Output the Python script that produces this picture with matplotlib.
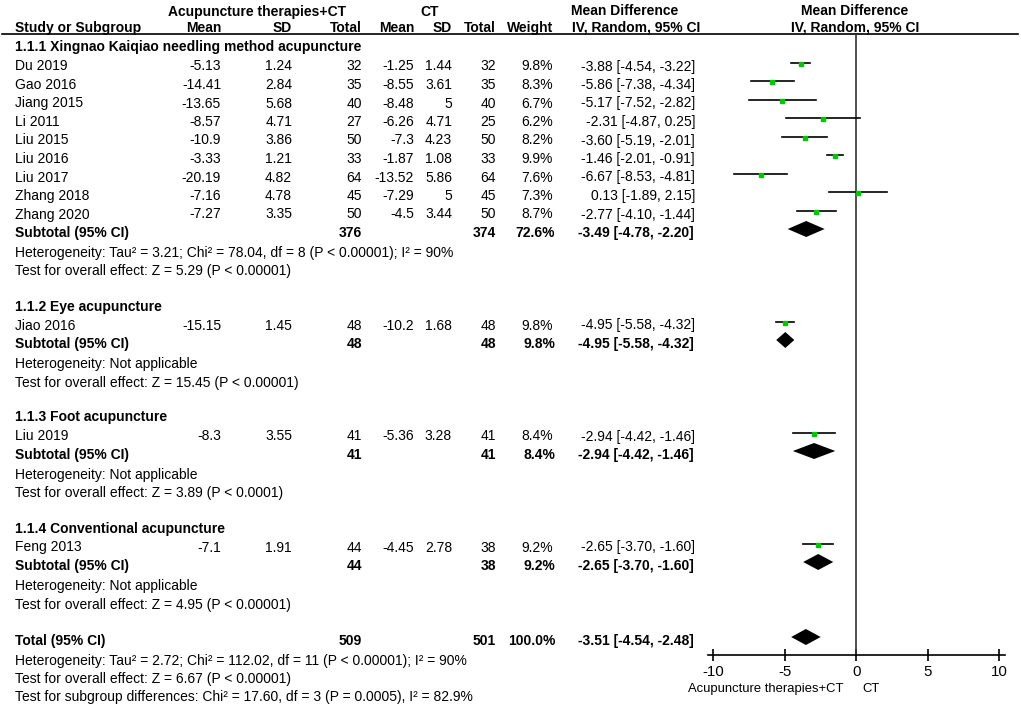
import matplotlib
matplotlib.use("Agg")
import matplotlib.pyplot as plt
from matplotlib.patches import Polygon

# ---------------- data ----------------
subgroup_titles = [
    "1.1.1 Xingnao Kaiqiao needling method acupuncture",
    "1.1.2 Eye acupuncture",
    "1.1.3 Foot acupuncture",
    "1.1.4 Conventional acupuncture",
]
# subgroup membership for each study (index into subgroup_titles)
study_group = [0, 0, 0, 0, 0, 0, 0, 0, 0, 1, 2, 3]
study_names = ["Du 2019", "Gao 2016", "Jiang 2015", "Li 2011", "Liu 2015", "Liu 2016",
               "Liu 2017", "Zhang 2018", "Zhang 2020", "Jiao 2016", "Liu 2019", "Feng 2013"]
exp_mean = [-5.13, -14.41, -13.65, -8.57, -10.9, -3.33, -20.19, -7.16, -7.27, -15.15, -8.3, -7.1]
exp_sd = [1.24, 2.84, 5.68, 4.71, 3.86, 1.21, 4.82, 4.78, 3.35, 1.45, 3.55, 1.91]
exp_n = [32, 35, 40, 27, 50, 33, 64, 45, 50, 48, 41, 44]
ctl_mean = [-1.25, -8.55, -8.48, -6.26, -7.3, -1.87, -13.52, -7.29, -4.5, -10.2, -5.36, -4.45]
ctl_sd = [1.44, 3.61, 5, 4.71, 4.23, 1.08, 5.86, 5, 3.44, 1.68, 3.28, 2.78]
ctl_n = [32, 35, 40, 25, 50, 33, 64, 45, 50, 48, 41, 38]
weight = [9.8, 8.3, 6.7, 6.2, 8.2, 9.9, 7.6, 7.3, 8.7, 9.8, 8.4, 9.2]
md = [-3.88, -5.86, -5.17, -2.31, -3.60, -1.46, -6.67, 0.13, -2.77, -4.95, -2.94, -2.65]
md_lo = [-4.54, -7.38, -7.52, -4.87, -5.19, -2.01, -8.53, -1.89, -4.10, -5.58, -4.42, -3.70]
md_hi = [-3.22, -4.34, -2.82, 0.25, -2.01, -0.91, -4.81, 2.15, -1.44, -4.32, -1.46, -1.60]

sub_exp_n = [376, 48, 41, 44]
sub_ctl_n = [374, 48, 41, 38]
sub_weight = [72.6, 9.8, 8.4, 9.2]
sub_md = [-3.49, -4.95, -2.94, -2.65]
sub_lo = [-4.78, -5.58, -4.42, -3.70]
sub_hi = [-2.20, -4.32, -1.46, -1.60]
sub_het = [
    "Heterogeneity: Tau\u00b2 = 3.21; Chi\u00b2 = 78.04, df = 8 (P < 0.00001); I\u00b2 = 90%",
    "Heterogeneity: Not applicable",
    "Heterogeneity: Not applicable",
    "Heterogeneity: Not applicable",
]
sub_test = [
    "Test for overall effect: Z = 5.29 (P < 0.00001)",
    "Test for overall effect: Z = 15.45 (P < 0.00001)",
    "Test for overall effect: Z = 3.89 (P < 0.0001)",
    "Test for overall effect: Z = 4.95 (P < 0.00001)",
]

total_exp_n = 509
total_ctl_n = 501
total_weight = 100.0
total_md, total_lo, total_hi = -3.51, -4.54, -2.48
total_notes = [
    "Heterogeneity: Tau\u00b2 = 2.72; Chi\u00b2 = 112.02, df = 11 (P < 0.00001); I\u00b2 = 90%",
    "Test for overall effect: Z = 6.67 (P < 0.00001)",
    "Test for subgroup differences: Chi\u00b2 = 17.60, df = 3 (P = 0.0005), I\u00b2 = 82.9%",
]

x_ticks = [-10, -5, 0, 5, 10]
favours_left = "Acupuncture therapies+CT"
favours_right = "CT"

# ---------------- figure ----------------
plt.rcParams['font.family'] = ['Liberation Sans', 'DejaVu Sans']
FS = 10
CAP = 5.0  # half cap height in px, to place baseline from visual center
W, H = 1021, 704
fig = plt.figure(figsize=(W / 100, H / 100), dpi=100)
ax = fig.add_axes([0, 0, 1, 1])
ax.set_xlim(0, W)
ax.set_ylim(H, 0)
ax.axis("off")

# forest-plot axes: x in effect units, y in pixel rows
AX_L, AX_R, AX_TOP, AX_BOT = 708, 1005, 34, 655
fax = fig.add_axes([AX_L / W, (H - AX_BOT) / H, (AX_R - AX_L) / W, (AX_BOT - AX_TOP) / H])
fax.set_xlim(-10.35, 10.4)
fax.set_ylim(AX_BOT, AX_TOP)
fax.patch.set_alpha(0)
for s in ("top", "right", "left"):
    fax.spines[s].set_visible(False)
fax.spines["bottom"].set_linewidth(1.2)
fax.set_yticks([])
fax.set_xticks(x_ticks)
fax.set_xticklabels([f"{t:g}" for t in x_ticks], fontsize=FS + 0.8)
fax.tick_params(axis="x", direction="inout", length=9, width=1.2, pad=3)
fax.axvline(0, color="#333333", lw=1.2)

# column right edges
C_EM, C_ESD, C_EN, C_CM, C_CSD, C_CN, C_W, C_CI = 221, 292, 362, 414, 452, 496, 553, 695


def txt(x, y, s, ha="left", bold=False, size=FS):
    ax.text(x, y + CAP, s, ha=ha, va="baseline", fontsize=size,
            fontweight="bold" if bold else "normal", color="black")


def ci_str(m, lo, hi):
    return f"{m:.2f} [{lo:.2f}, {hi:.2f}]"


def diamond(m, lo, hi, y, h=8):
    fax.add_patch(Polygon([(lo, y), (m, y - h), (hi, y), (m, y + h)],
                          closed=True, color="black", lw=0))


# headers
txt(257, 11, "Acupuncture therapies+CT", ha="center", bold=True)
txt(430, 11, "CT", ha="center", bold=True)
txt(625, 10, "Mean Difference", ha="center", bold=True)
txt(855, 10, "Mean Difference", ha="center", bold=True)
hy = 27
txt(15, hy, "Study or Subgroup", bold=True)
txt(C_EM, hy, "Mean", ha="right", bold=True)
txt(C_ESD, hy, "SD", ha="right", bold=True)
txt(C_EN, hy, "Total", ha="right", bold=True)
txt(C_CM, hy, "Mean", ha="right", bold=True)
txt(C_CSD, hy, "SD", ha="right", bold=True)
txt(C_CN, hy, "Total", ha="right", bold=True)
txt(C_W, hy, "Weight", ha="right", bold=True)
txt(572, hy, "IV, Random, 95% CI", bold=True)
txt(855, hy, "IV, Random, 95% CI", ha="center", bold=True)
ax.plot([2, 1018], [34, 34], color="black", lw=1.2)

Y0, DY = 47, 18.5
row = 0
for g, title in enumerate(subgroup_titles):
    y = Y0 + row * DY
    txt(15, y - 0.5, title, bold=True)
    row += 1
    for i in [k for k, gg in enumerate(study_group) if gg == g]:
        y = Y0 + row * DY
        txt(15, y, study_names[i])
        txt(C_EM, y, f"{exp_mean[i]:g}", ha="right")
        txt(C_ESD, y, f"{exp_sd[i]:g}", ha="right")
        txt(C_EN, y, f"{exp_n[i]:d}", ha="right")
        txt(C_CM, y, f"{ctl_mean[i]:g}", ha="right")
        txt(C_CSD, y, f"{ctl_sd[i]:g}", ha="right")
        txt(C_CN, y, f"{ctl_n[i]:d}", ha="right")
        txt(C_W, y, f"{weight[i]:.1f}%", ha="right")
        txt(C_CI, y, ci_str(md[i], md_lo[i], md_hi[i]), ha="right")
        fax.plot([md_lo[i], md_hi[i]], [y - 3, y - 3], color="black", lw=1.2)
        fax.plot([md[i]], [y - 2], marker="s", ms=1.5 + 0.18 * weight[i], color="#00c800",
                 mec="#00c800", lw=0)
        row += 1
    y = Y0 + row * DY
    txt(15, y, "Subtotal (95% CI)", bold=True)
    txt(C_EN, y, f"{sub_exp_n[g]:d}", ha="right", bold=True)
    txt(C_CN, y, f"{sub_ctl_n[g]:d}", ha="right", bold=True)
    txt(C_W + 2, y, f"{sub_weight[g]:.1f}%", ha="right", bold=True)
    txt(C_CI - 1, y, ci_str(sub_md[g], sub_lo[g], sub_hi[g]), ha="right", bold=True)
    diamond(sub_md[g], sub_lo[g], sub_hi[g], y - 3)
    row += 1
    txt(15, Y0 + row * DY + 1.5, sub_het[g])
    row += 1
    txt(15, Y0 + row * DY + 1.5, sub_test[g])
    row += 2

y = Y0 + row * DY
txt(15, y + 1, "Total (95% CI)", bold=True)
txt(C_EN, y + 1, f"{total_exp_n:d}", ha="right", bold=True)
txt(C_CN, y + 1, f"{total_ctl_n:d}", ha="right", bold=True)
txt(C_W + 2, y + 1, f"{total_weight:.1f}%", ha="right", bold=True)
txt(C_CI - 1, y + 1, ci_str(total_md, total_lo, total_hi), ha="right", bold=True)
diamond(total_md, total_lo, total_hi, y - 2)
row += 1
for note in total_notes:
    txt(15, Y0 + row * DY + 2, note)
    row += 1

# favours labels
txt(843, 687, favours_left, ha="right", size=FS - 0.6)
txt(862, 687, favours_right, ha="left", size=FS - 0.6)

fig.savefig("out.png", dpi=100)
